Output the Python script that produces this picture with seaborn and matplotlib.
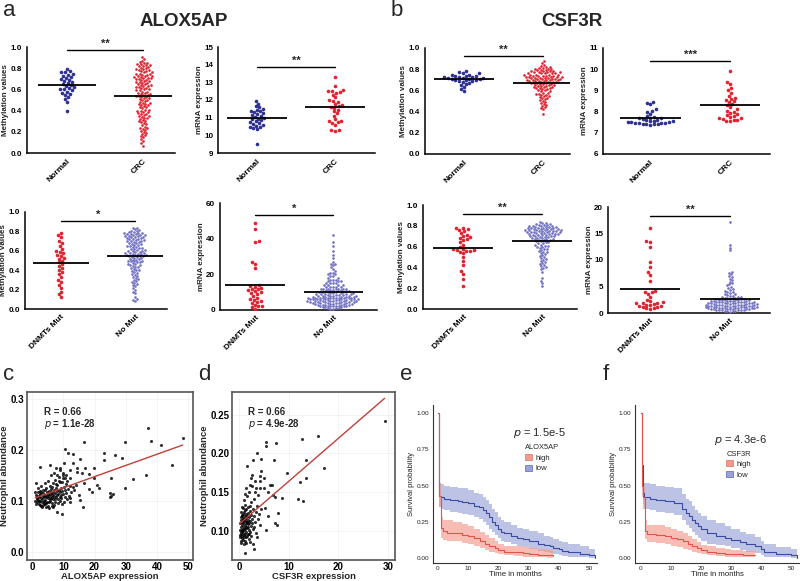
import numpy as np
import pandas as pd
import matplotlib
matplotlib.use("Agg")
import matplotlib.pyplot as plt
import seaborn as sns
from matplotlib.patches import Patch

# ---------------- values ----------------
# panel a (ALOX5AP)
alox_meth_normal = [0.79, 0.77, 0.76, 0.76, 0.75, 0.74, 0.73, 0.72, 0.71, 0.70, 0.69, 0.68, 0.67, 0.66, 0.65,
                    0.64, 0.63, 0.62, 0.61, 0.60, 0.60, 0.59, 0.58, 0.57, 0.56, 0.55, 0.53, 0.51, 0.48, 0.40]
alox_meth_crc = [0.91, 0.89, 0.87, 0.86, 0.85, 0.85, 0.84, 0.84, 0.83, 0.83, 0.82, 0.82, 0.81, 0.80, 0.80, 0.79,
                 0.79, 0.78, 0.78, 0.77, 0.77, 0.76, 0.76, 0.75, 0.75, 0.75, 0.74, 0.74, 0.73, 0.73, 0.73, 0.72,
                 0.72, 0.71, 0.71, 0.71, 0.70, 0.70, 0.69, 0.69, 0.68, 0.68, 0.67, 0.67, 0.66, 0.66, 0.65, 0.65,
                 0.64, 0.64, 0.63, 0.63, 0.62, 0.62, 0.61, 0.61, 0.60, 0.60, 0.59, 0.59, 0.58, 0.58, 0.57, 0.57,
                 0.56, 0.56, 0.55, 0.55, 0.54, 0.54, 0.53, 0.53, 0.52, 0.52, 0.51, 0.50, 0.50, 0.49, 0.48, 0.47,
                 0.47, 0.46, 0.46, 0.45, 0.45, 0.44, 0.43, 0.43, 0.42, 0.41, 0.41, 0.40, 0.40, 0.39, 0.39, 0.38,
                 0.37, 0.37, 0.36, 0.35, 0.35, 0.34, 0.33, 0.33, 0.32, 0.31, 0.30, 0.30, 0.29, 0.28, 0.27, 0.26,
                 0.25, 0.24, 0.24, 0.23, 0.22, 0.21, 0.20, 0.19, 0.18, 0.17, 0.16, 0.15, 0.13, 0.11, 0.09, 0.07]
alox_mrna_normal = [11.95, 11.8, 11.65, 11.6, 11.5, 11.45, 11.4, 11.35, 11.3, 11.25, 11.2, 11.15, 11.1, 11.05, 11.0,
                    10.95, 10.9, 10.85, 10.8, 10.75, 10.7, 10.65, 10.6, 10.55, 10.5, 10.45, 10.4, 10.35, 9.5]
alox_mrna_crc = [13.3, 12.8, 12.55, 12.5, 12.5, 12.45, 12.4, 12.3, 12.15, 12.0, 11.95, 11.9, 11.8, 11.7, 11.65,
                 11.6, 11.55, 11.45, 11.35, 11.25, 11.1, 10.9, 10.8, 10.8, 10.75, 10.7, 10.6, 10.3, 10.28, 10.25]
alox_meth_dnmt = [0.78, 0.76, 0.74, 0.70, 0.68, 0.65, 0.62, 0.60, 0.59, 0.58, 0.56, 0.55, 0.53, 0.52, 0.50,
                  0.48, 0.46, 0.44, 0.42, 0.40, 0.38, 0.36, 0.33, 0.30, 0.28, 0.25, 0.22, 0.18, 0.15, 0.12]
alox_meth_nomut = [0.84, 0.83, 0.82, 0.81, 0.80, 0.80, 0.79, 0.79, 0.78, 0.78, 0.78, 0.77, 0.77, 0.77, 0.76, 0.76,
                   0.76, 0.75, 0.75, 0.75, 0.74, 0.74, 0.74, 0.73, 0.73, 0.72, 0.72, 0.72, 0.71, 0.71, 0.70, 0.70,
                   0.70, 0.69, 0.69, 0.68, 0.68, 0.67, 0.67, 0.66, 0.66, 0.65, 0.65, 0.64, 0.64, 0.63, 0.63, 0.62,
                   0.62, 0.61, 0.61, 0.60, 0.60, 0.60, 0.59, 0.59, 0.58, 0.58, 0.58, 0.57, 0.57, 0.57, 0.56, 0.56,
                   0.56, 0.55, 0.55, 0.55, 0.54, 0.54, 0.53, 0.53, 0.52, 0.52, 0.51, 0.51, 0.50, 0.50, 0.49, 0.49,
                   0.48, 0.48, 0.47, 0.46, 0.46, 0.45, 0.45, 0.44, 0.43, 0.43, 0.42, 0.41, 0.40, 0.40, 0.39, 0.38,
                   0.37, 0.36, 0.35, 0.34, 0.33, 0.32, 0.31, 0.30, 0.29, 0.28, 0.27, 0.26, 0.25, 0.24, 0.22, 0.20,
                   0.18, 0.16, 0.12, 0.10, 0.09, 0.08]
alox_mrna_dnmt = [49, 45.5, 38.5, 38, 27, 26, 23.5, 14, 13.5, 13, 12.5, 12, 11.5, 11, 10.5,
                  10, 9.5, 9, 8, 7, 6, 5.5, 5, 4.5, 4, 3, 2.5, 2, 1.5, 0.8]
alox_mrna_nomut = [42, 38, 36, 33, 31, 29, 27, 26, 26, 25, 24, 23, 22, 21, 21, 20, 20, 19, 19, 18, 18, 17, 17, 17,
                   16, 16, 16, 15, 15, 15, 15, 14, 14, 14, 14, 13, 13, 13, 13, 13, 12, 12, 12, 12, 12, 11.5, 11.5,
                   11, 11, 11, 11, 10.5, 10.5, 10.5, 10, 10, 10, 10, 10, 9.5, 9.5, 9.5, 9.5, 9, 9, 9, 9, 9, 8.5,
                   8.5, 8.5, 8.5, 8, 8, 8, 8, 8, 8, 7.5, 7.5, 7.5, 7.5, 7.5, 7, 7, 7, 7, 7, 7, 6.5, 6.5, 6.5, 6.5,
                   6.5, 6.5, 6, 6, 6, 6, 6, 6, 6, 5.5, 5.5, 5.5, 5.5, 5.5, 5.5, 5, 5, 5, 5, 5, 5, 5, 4.5, 4.5, 4.5,
                   4.5, 4.5, 4.5, 4, 4, 4, 4, 4, 4, 3.5, 3.5, 3.5, 3.5, 3.5, 3, 3, 3, 3, 3, 2.5, 2.5, 2.5, 2.5, 2,
                   2, 2, 2, 1.5, 1.5, 1.5, 1, 1, 1, 0.5, 0.5]

# panel b (CSF3R)
csf_meth_normal = [0.78, 0.77, 0.76, 0.76, 0.75, 0.75, 0.74, 0.74, 0.74, 0.73, 0.73, 0.73, 0.72, 0.72, 0.72,
                   0.71, 0.71, 0.71, 0.70, 0.70, 0.70, 0.69, 0.69, 0.68, 0.67, 0.66, 0.65, 0.63, 0.61, 0.59]
csf_meth_crc = [0.88, 0.86, 0.84, 0.83, 0.82, 0.82, 0.81, 0.81, 0.80, 0.80, 0.80, 0.79, 0.79, 0.79, 0.78, 0.78,
                0.78, 0.78, 0.77, 0.77, 0.77, 0.77, 0.76, 0.76, 0.76, 0.76, 0.76, 0.75, 0.75, 0.75, 0.75, 0.75,
                0.74, 0.74, 0.74, 0.74, 0.74, 0.73, 0.73, 0.73, 0.73, 0.73, 0.72, 0.72, 0.72, 0.72, 0.72, 0.71,
                0.71, 0.71, 0.71, 0.71, 0.70, 0.70, 0.70, 0.70, 0.70, 0.69, 0.69, 0.69, 0.69, 0.68, 0.68, 0.68,
                0.68, 0.67, 0.67, 0.67, 0.67, 0.66, 0.66, 0.66, 0.65, 0.65, 0.65, 0.64, 0.64, 0.64, 0.63, 0.63,
                0.63, 0.62, 0.62, 0.62, 0.61, 0.61, 0.60, 0.60, 0.59, 0.59, 0.58, 0.58, 0.57, 0.57, 0.56, 0.56,
                0.55, 0.55, 0.54, 0.53, 0.53, 0.52, 0.51, 0.50, 0.49, 0.48, 0.47, 0.46, 0.45, 0.44, 0.43, 0.42,
                0.38]
csf_mrna_normal = [8.45, 8.4, 8.35, 8.1, 8.05, 8.0, 7.9, 7.8, 7.75, 7.72, 7.7, 7.68, 7.65, 7.62, 7.6,
                   7.58, 7.55, 7.55, 7.52, 7.5, 7.5, 7.48, 7.46, 7.45, 7.45, 7.43, 7.42, 7.4, 7.4, 7.38]
csf_mrna_crc = [9.9, 9.4, 9.3, 9.1, 9.0, 8.9, 8.75, 8.65, 8.6, 8.55, 8.5, 8.45, 8.35, 8.3, 8.2,
                8.1, 8.05, 8.0, 7.95, 7.9, 7.85, 7.8, 7.75, 7.7, 7.68, 7.65, 7.62, 7.6, 7.58, 7.55]
csf_meth_dnmt = [0.78, 0.78, 0.77, 0.76, 0.75, 0.73, 0.71, 0.70, 0.69, 0.68, 0.67, 0.66, 0.64, 0.62, 0.60,
                 0.58, 0.58, 0.57, 0.57, 0.56, 0.56, 0.55, 0.54, 0.50, 0.46, 0.42, 0.37, 0.34, 0.29, 0.22]
csf_meth_nomut = [0.84, 0.83, 0.83, 0.82, 0.82, 0.81, 0.81, 0.81, 0.80, 0.80, 0.80, 0.80, 0.79, 0.79, 0.79, 0.79,
                  0.78, 0.78, 0.78, 0.78, 0.78, 0.77, 0.77, 0.77, 0.77, 0.77, 0.76, 0.76, 0.76, 0.76, 0.76, 0.75,
                  0.75, 0.75, 0.75, 0.75, 0.74, 0.74, 0.74, 0.74, 0.74, 0.73, 0.73, 0.73, 0.73, 0.72, 0.72, 0.72,
                  0.72, 0.71, 0.71, 0.71, 0.71, 0.70, 0.70, 0.70, 0.70, 0.69, 0.69, 0.69, 0.68, 0.68, 0.68, 0.67,
                  0.67, 0.67, 0.66, 0.66, 0.66, 0.65, 0.65, 0.64, 0.64, 0.63, 0.63, 0.62, 0.62, 0.61, 0.61, 0.60,
                  0.60, 0.59, 0.58, 0.58, 0.57, 0.56, 0.55, 0.55, 0.54, 0.53, 0.52, 0.51, 0.50, 0.49, 0.48, 0.47,
                  0.46, 0.45, 0.44, 0.43, 0.42, 0.41, 0.40, 0.39, 0.38, 0.36, 0.30, 0.27, 0.25, 0.22]
csf_mrna_dnmt = [16, 13.6, 13.4, 12.5, 9.6, 8.6, 7.8, 7.2, 6.1, 4.2, 4.0, 3.9, 3.6, 3.0, 2.5,
                 2.2, 2.0, 1.9, 1.8, 1.8, 1.7, 1.6, 1.5, 1.4, 1.3, 1.2, 1.1, 1.0, 0.9, 0.8]
csf_mrna_nomut = [17.2, 12.8, 12.3, 11.8, 7.8, 7.6, 7.3, 7.0, 6.8, 6.5, 6.2, 5.9, 5.6, 5.4, 5.2, 5.0, 4.8, 4.6,
                  4.4, 4.2, 4.0, 3.9, 3.8, 3.6, 3.5, 3.4, 3.3, 3.2, 3.1, 3.0, 3.0, 2.9, 2.9, 2.8, 2.8, 2.7, 2.7,
                  2.6, 2.6, 2.5, 2.5, 2.5, 2.4, 2.4, 2.4, 2.3, 2.3, 2.3, 2.2, 2.2, 2.2, 2.1, 2.1, 2.1, 2.0, 2.0,
                  2.0, 2.0, 1.9, 1.9, 1.9, 1.9, 1.8, 1.8, 1.8, 1.8, 1.7, 1.7, 1.7, 1.7, 1.6, 1.6, 1.6, 1.6, 1.5,
                  1.5, 1.5, 1.5, 1.4, 1.4, 1.4, 1.4, 1.3, 1.3, 1.3, 1.3, 1.2, 1.2, 1.2, 1.2, 1.1, 1.1, 1.1, 1.1,
                  1.0, 1.0, 1.0, 1.0, 0.9, 0.9, 0.9, 0.9, 0.8, 0.8, 0.8, 0.8, 0.7, 0.7, 0.7, 0.6, 0.6, 0.6, 0.5,
                  0.5, 0.5, 0.4, 0.4, 0.3, 0.3, 0.2]

# panel c: ALOX5AP expression vs neutrophil abundance
c_x = [1.2, 1.5, 1.6, 1.8, 2.0, 2.1, 2.2, 2.4, 2.5, 2.6, 2.8, 3.0, 3.1, 3.2, 3.3, 3.5, 3.6, 3.7, 3.8, 4.0,
       4.1, 4.2, 4.3, 4.5, 4.6, 4.7, 4.8, 5.0, 5.1, 5.2, 5.3, 5.5, 5.6, 5.7, 5.8, 6.0, 6.1, 6.2, 6.3, 6.5,
       6.6, 6.7, 6.8, 7.0, 7.1, 7.2, 7.3, 7.5, 7.6, 7.8, 8.0, 8.1, 8.2, 8.4, 8.5, 8.6, 8.8, 9.0, 9.1, 9.2,
       9.4, 9.5, 9.6, 9.8, 10.0, 10.2, 10.4, 10.5, 10.8, 11.0, 11.2, 11.5, 11.8, 12.0, 12.5, 13.0, 13.5, 14.0,
       1.3, 1.7, 1.9, 2.3, 2.7, 2.9, 3.4, 3.9, 4.4, 4.9, 5.4, 5.9, 6.4, 6.9, 7.4, 7.9, 8.3, 8.9, 9.3, 9.9,
       10.3, 10.7, 11.3, 12.2, 1.4, 2.0, 3.0, 4.0, 5.0, 6.0, 7.0, 8.0, 9.0, 10.0, 11.0, 12.0, 3.5, 4.5, 5.5,
       6.5, 2.5, 1.0, 1.1, 6.3, 7.7, 8.7, 9.7,
       37.2, 48.2, 38.0, 41.2, 29.8, 16.5, 10.6, 11.4, 13.0, 23.1, 26.6, 28.7, 22.9, 15.4, 10.1, 13.0, 44.9,
       2.4, 5.9, 14.4, 17.0, 19.7, 7.7, 9.0, 12.2, 14.4, 16.0, 18.3, 36.5, 19.9, 25.2, 32.4, 16.5, 20.7, 21.3,
       18.1, 19.1, 29.8, 25.0, 25.3, 25.8, 24.8, 14.9, 12.0, 15.4, 16.3, 9.6, 8.0, 6.6]
c_y = [0.136, 0.105, 0.098, 0.110, 0.102, 0.095, 0.108, 0.112, 0.100, 0.093, 0.106, 0.118, 0.099, 0.104, 0.088,
       0.110, 0.115, 0.097, 0.107, 0.121, 0.102, 0.094, 0.112, 0.108, 0.125, 0.099, 0.117, 0.105, 0.113, 0.091,
       0.120, 0.109, 0.130, 0.101, 0.114, 0.118, 0.106, 0.124, 0.097, 0.111, 0.135, 0.116, 0.104, 0.121, 0.110,
       0.142, 0.099, 0.115, 0.126, 0.108, 0.119, 0.131, 0.103, 0.113, 0.148, 0.122, 0.107, 0.117, 0.138, 0.112,
       0.126, 0.095, 0.119, 0.145, 0.114, 0.128, 0.108, 0.121, 0.133, 0.116, 0.140, 0.124, 0.110, 0.130, 0.118,
       0.127, 0.122, 0.132,
       0.112, 0.104, 0.117, 0.101, 0.114, 0.091, 0.122, 0.101, 0.089, 0.110, 0.098, 0.103, 0.107, 0.093, 0.104,
       0.112, 0.097, 0.101, 0.106, 0.150, 0.099, 0.146, 0.104, 0.098, 0.094, 0.125, 0.130, 0.135, 0.140, 0.150,
       0.155, 0.150, 0.160, 0.155, 0.150, 0.145, 0.092, 0.097, 0.087, 0.091, 0.120, 0.100, 0.118, 0.127, 0.133,
       0.140, 0.137,
       0.243, 0.223, 0.218, 0.210, 0.215, 0.215, 0.202, 0.194, 0.192, 0.194, 0.191, 0.185, 0.180, 0.182, 0.175,
       0.175, 0.170, 0.166, 0.171, 0.164, 0.165, 0.164, 0.164, 0.164, 0.161, 0.156, 0.154, 0.152, 0.151, 0.145,
       0.145, 0.143, 0.136, 0.131, 0.125, 0.124, 0.117, 0.125, 0.115, 0.110, 0.113, 0.108, 0.111, 0.106, 0.102,
       0.089, 0.075, 0.078, 0.089]

# panel d: CSF3R expression vs neutrophil abundance
d_x = [0.2, 0.3, 0.3, 0.4, 0.4, 0.5, 0.5, 0.5, 0.6, 0.6, 0.6, 0.7, 0.7, 0.7, 0.8, 0.8, 0.8, 0.9, 0.9, 0.9,
       1.0, 1.0, 1.0, 1.0, 1.1, 1.1, 1.1, 1.2, 1.2, 1.2, 1.2, 1.3, 1.3, 1.3, 1.4, 1.4, 1.4, 1.5, 1.5, 1.5,
       1.6, 1.6, 1.6, 1.7, 1.7, 1.8, 1.8, 1.8, 1.9, 1.9, 2.0, 2.0, 2.0, 2.1, 2.2, 2.2, 2.3, 2.4, 2.5, 2.5,
       2.6, 2.8, 2.8, 3.0, 3.0, 3.2, 3.4, 3.5, 3.6, 3.8, 4.0, 4.2, 4.5, 0.3, 0.4, 0.5, 0.6, 0.7, 0.8, 0.9,
       1.1, 1.3, 1.5, 1.7, 1.9, 2.1, 2.3, 2.7, 3.1, 0.5, 1.0, 1.5, 2.0, 2.5, 0.6, 1.2, 1.4, 2.2, 2.6, 3.3, 3.9,
       29.3, 16.0, 12.6, 5.4, 5.5, 7.4, 3.7, 13.5, 4.4, 2.9, 7.1, 1.7, 17.2, 4.4, 9.7, 2.6, 2.4, 13.4, 4.2,
       5.0, 3.2, 4.2, 12.3, 6.6, 6.2, 3.5, 5.0, 4.2, 5.8, 6.9, 7.2, 8.7, 11.8, 12.8, 5.2, 7.9, 5.9, 7.2, 7.6,
       5.4, 3.6, 2.9, 2.2, 1.2, 3.0]
d_y = [0.095, 0.102, 0.110, 0.088, 0.118, 0.097, 0.105, 0.125, 0.091, 0.112, 0.100, 0.108, 0.120, 0.094,
       0.103, 0.115, 0.130, 0.098, 0.110, 0.122, 0.092, 0.106, 0.117, 0.140, 0.101, 0.113, 0.125, 0.096, 0.108,
       0.119, 0.134, 0.103, 0.115, 0.088, 0.110, 0.122, 0.099, 0.106, 0.128, 0.117, 0.094, 0.112, 0.145, 0.104,
       0.120, 0.109, 0.131, 0.097, 0.115, 0.124, 0.102, 0.118, 0.150, 0.111, 0.126, 0.099, 0.113, 0.137, 0.107,
       0.121, 0.116, 0.128, 0.103, 0.119, 0.142, 0.112, 0.125, 0.098, 0.133, 0.116, 0.122, 0.108, 0.128, 0.092,
       0.099, 0.114, 0.121, 0.101, 0.089, 0.116, 0.095, 0.127, 0.093, 0.112, 0.105, 0.096, 0.133, 0.110, 0.105,
       0.085, 0.083, 0.085, 0.090, 0.094, 0.131, 0.148, 0.155, 0.160, 0.158, 0.150, 0.146,
       0.242, 0.222, 0.218, 0.215, 0.209, 0.214, 0.201, 0.191, 0.193, 0.192, 0.191, 0.184, 0.181, 0.178, 0.175,
       0.172, 0.169, 0.169, 0.171, 0.169, 0.165, 0.164, 0.163, 0.159, 0.160, 0.155, 0.155, 0.155, 0.150, 0.147,
       0.144, 0.143, 0.142, 0.139, 0.130, 0.123, 0.119, 0.110, 0.108, 0.101, 0.092, 0.084, 0.086, 0.072, 0.077]

# panel e: survival curves, ALOX5AP high / low
e_low_t = [0, 0.2, 0.5, 1.0, 2.0, 4.0, 6.5, 8.0, 10.0, 12.0, 13.5, 15.0, 16.0, 17.0, 18.0, 19.0, 20.0, 21.0,
           22.0, 24.0, 26.0, 28.0, 30.0, 33.0, 35.0, 37.0, 38.0, 40.0, 41.0, 43.0, 47.0, 50.0, 52.0]
e_low_s = [1.0, 0.62, 0.43, 0.42, 0.41, 0.40, 0.39, 0.385, 0.38, 0.36, 0.35, 0.33, 0.31, 0.28, 0.25, 0.23, 0.20,
           0.18, 0.17, 0.15, 0.14, 0.13, 0.12, 0.10, 0.09, 0.08, 0.07, 0.06, 0.05, 0.04, 0.03, 0.02, 0.0]
e_low_hi = [1.0, 0.73, 0.52, 0.51, 0.50, 0.49, 0.48, 0.48, 0.47, 0.45, 0.44, 0.42, 0.40, 0.37, 0.34, 0.32, 0.28,
            0.26, 0.25, 0.23, 0.21, 0.20, 0.19, 0.17, 0.155, 0.145, 0.13, 0.12, 0.11, 0.095, 0.08, 0.065, 0.06]
e_low_lo = [1.0, 0.52, 0.35, 0.34, 0.33, 0.32, 0.31, 0.305, 0.30, 0.28, 0.27, 0.25, 0.23, 0.20, 0.18, 0.16, 0.14,
            0.12, 0.11, 0.095, 0.085, 0.075, 0.065, 0.05, 0.04, 0.035, 0.03, 0.02, 0.015, 0.01, 0.005, 0.0, 0.0]
e_high_t = [0, 0.2, 0.5, 1.0, 1.5, 3.0, 5.0, 8.0, 10.0, 12.0, 14.0, 15.5, 17.0, 19.0, 20.0, 22.0, 25.0, 28.0,
            30.0, 33.0, 36.0, 38.0]
e_high_s = [1.0, 0.52, 0.43, 0.21, 0.19, 0.175, 0.17, 0.16, 0.15, 0.135, 0.12, 0.10, 0.085, 0.07, 0.055, 0.045,
            0.04, 0.034, 0.03, 0.023, 0.018, 0.016]
e_high_hi = [1.0, 0.60, 0.52, 0.28, 0.265, 0.26, 0.25, 0.235, 0.22, 0.20, 0.18, 0.16, 0.14, 0.12, 0.10, 0.085,
             0.08, 0.075, 0.07, 0.06, 0.055, 0.05]
e_high_lo = [1.0, 0.44, 0.35, 0.14, 0.125, 0.12, 0.115, 0.105, 0.095, 0.085, 0.07, 0.055, 0.045, 0.035, 0.025,
             0.018, 0.014, 0.01, 0.008, 0.005, 0.003, 0.003]

# panel f: survival curves, CSF3R high / low
f_low_t = [0, 0.2, 0.6, 1.0, 3.0, 5.0, 8.0, 11.0, 12.5, 13.5, 15.0, 16.0, 17.0, 18.0, 19.0, 20.0, 22.0, 25.0,
           28.0, 30.0, 33.0, 35.0, 38.0, 40.0, 41.0, 45.0, 50.0, 52.0]
f_low_s = [1.0, 0.64, 0.45, 0.42, 0.41, 0.40, 0.39, 0.38, 0.38, 0.34, 0.31, 0.29, 0.26, 0.24, 0.22, 0.20, 0.17,
           0.155, 0.14, 0.125, 0.11, 0.095, 0.08, 0.06, 0.04, 0.025, 0.02, 0.0]
f_low_hi = [1.0, 0.75, 0.54, 0.52, 0.51, 0.50, 0.49, 0.48, 0.48, 0.44, 0.41, 0.39, 0.36, 0.33, 0.31, 0.29, 0.26,
            0.24, 0.22, 0.20, 0.18, 0.165, 0.145, 0.12, 0.095, 0.075, 0.065, 0.06]
f_low_lo = [1.0, 0.54, 0.37, 0.34, 0.33, 0.32, 0.31, 0.30, 0.30, 0.26, 0.23, 0.21, 0.18, 0.16, 0.14, 0.12, 0.10,
            0.09, 0.08, 0.07, 0.055, 0.045, 0.035, 0.02, 0.01, 0.005, 0.0, 0.0]
f_high_t = [0, 0.3, 0.8, 1.2, 2.0, 5.0, 8.0, 10.0, 12.0, 14.0, 15.5, 17.0, 18.5, 20.0, 22.0, 25.0, 28.0, 30.0,
            34.0, 38.0]
f_high_s = [1.0, 0.50, 0.42, 0.19, 0.165, 0.16, 0.15, 0.14, 0.13, 0.115, 0.10, 0.085, 0.07, 0.055, 0.045, 0.035,
            0.03, 0.025, 0.022, 0.02]
f_high_hi = [1.0, 0.58, 0.50, 0.26, 0.23, 0.225, 0.215, 0.20, 0.19, 0.17, 0.15, 0.13, 0.11, 0.09, 0.08, 0.07,
             0.06, 0.055, 0.05, 0.05]
f_high_lo = [1.0, 0.42, 0.34, 0.13, 0.11, 0.105, 0.095, 0.085, 0.075, 0.065, 0.055, 0.045, 0.035, 0.025, 0.02,
             0.012, 0.01, 0.008, 0.006, 0.005]

NAVY = "#2e3192"
RED = "#e0242f"
LAV = "#7373c4"
W, H = 800, 581

sns.set_style("white")
plt.rcParams['font.family'] = ['Liberation Sans', 'DejaVu Sans']

fig = plt.figure(figsize=(8, 5.81), dpi=100)


def box(l, t, r, b):
    # pixel box -> figure fraction
    return [l / W, 1 - b / H, (r - l) / W, (b - t) / H]


def dot_panel(pos, g1, g2, labels, colors, ylim, yticks, ylabel, xlim, bar_y, stars):
    ax = fig.add_axes(box(*pos))
    for lab, g, col in zip(labels, [g1, g2], colors):
        # the big groups were drawn with smaller dots
        sz = 2.6 if len(g) < 60 else 1.9
        sns.swarmplot(x=[lab] * len(g), y=g, order=labels, color=col, size=sz, ax=ax, warn_thresh=1)
    for i, g in enumerate([g1, g2]):
        ax.hlines(np.mean(g), i - 0.38, i + 0.38, color='black', lw=1.3, zorder=5)
    ax.plot([0, 1], [bar_y, bar_y], color='black', lw=1.0, clip_on=False)
    ax.text(0.5, bar_y + (ylim[1] - ylim[0]) * 0.01, stars, ha='center', va='bottom',
            fontsize=8, fontweight='bold')
    ax.set_xlim(*xlim)
    ax.set_ylim(*ylim)
    ax.set_yticks(yticks)
    ax.set_xlabel('')
    ax.set_ylabel(ylabel, fontsize=5.8, fontweight='bold', labelpad=1)
    for s in ['top', 'right']:
        ax.spines[s].set_visible(False)
    for s in ['left', 'bottom']:
        ax.spines[s].set_linewidth(1.1)
        ax.spines[s].set_color('black')
    ax.tick_params(axis='both', direction='out', length=2.2, width=1, pad=1.2, labelsize=5.8, colors='black')
    for lab in ax.get_yticklabels():
        lab.set_fontweight('bold')
    ax.set_xticks([0, 1])
    ax.set_xticklabels(labels, rotation=45, ha='right', rotation_mode='anchor', fontweight='bold', fontsize=6)
    return ax


# ---- panel a ----
dot_panel((27, 47, 175, 153), alox_meth_normal, alox_meth_crc, ['Normal', 'CRC'], [NAVY, RED],
          (0, 1), np.arange(0, 1.01, 0.2), 'Methylation values', (-0.526, 1.42), 0.97, '**')
dot_panel((218, 47, 375, 153), alox_mrna_normal, alox_mrna_crc, ['Normal', 'CRC'], [NAVY, RED],
          (9, 15), np.arange(9, 16, 1), 'mRNA expression', (-0.5, 1.51), 13.87, '**')
dot_panel((25, 212, 167, 309), alox_meth_dnmt, alox_meth_nomut, ['DNMTs Mut', 'No Mut'], [RED, LAV],
          (0, 1), np.arange(0, 1.01, 0.2), 'Methylation values', (-0.486, 1.43), 0.907, '*')
dot_panel((220, 203, 377, 310), alox_mrna_dnmt, alox_mrna_nomut, ['DNMTs Mut', 'No Mut'], [RED, LAV],
          (0, 60), [0, 20, 40, 60], 'mRNA expression', (-0.45, 1.56), 53.3, '*')

# ---- panel b ----
dot_panel((425, 48, 570, 154), csf_meth_normal, csf_meth_crc, ['Normal', 'CRC'], [NAVY, RED],
          (0, 1), np.arange(0, 1.01, 0.2), 'Methylation values', (-0.49, 1.34), 0.925, '**')
dot_panel((603, 48, 770, 154), csf_mrna_normal, csf_mrna_crc, ['Normal', 'CRC'], [NAVY, RED],
          (6, 11), np.arange(6, 12, 1), 'mRNA expression', (-0.59, 1.5), 10.39, '***')
dot_panel((423, 205, 577, 309), csf_meth_dnmt, csf_meth_nomut, ['DNMTs Mut', 'No Mut'], [RED, LAV],
          (0, 1), np.arange(0, 1.01, 0.2), 'Methylation values', (-0.51, 1.44), 0.913, '**')
dot_panel((608, 207, 770, 313), csf_mrna_dnmt, csf_mrna_nomut, ['DNMTs Mut', 'No Mut'], [RED, LAV],
          (0, 20), [0, 5, 10, 15, 20], 'mRNA expression', (-0.525, 1.5), 18.3, '**')


# ---- panels c, d ----
def corr_panel(pos, x, y, xlim, ylim, xticks, yticks, ytfmt, xlabel, rtxt, ptxt):
    ax = fig.add_axes(box(*pos))
    sns.regplot(x=np.array(x), y=np.array(y), ci=None, ax=ax,
                scatter_kws={'s': 5, 'color': 'black', 'linewidths': 0},
                line_kws={'color': '#c0403a', 'lw': 1.0})
    ax.set_xlim(*xlim)
    ax.set_ylim(*ylim)
    ax.set_xticks(xticks)
    ax.set_yticks(yticks)
    ax.set_yticklabels([ytfmt.format(v) for v in yticks])
    ax.grid(True, color='#eeeeee', lw=0.5)
    ax.set_axisbelow(True)
    for s in ax.spines.values():
        s.set_visible(True)
        s.set_color('#555555')
        s.set_linewidth(1.2)
    ax.tick_params(axis='both', direction='out', length=1.2, width=0.8, pad=0.6, labelsize=7, colors='black')
    for lab in ax.get_xticklabels() + ax.get_yticklabels():
        lab.set_fontweight('bold')
    ax.set_xlabel(xlabel, fontsize=6.8, fontweight='bold', labelpad=-0.5)
    ax.set_ylabel('Neutrophil abundance', fontsize=6.8, fontweight='bold', labelpad=1)
    ax.text(0.1, 0.88, rtxt, transform=ax.transAxes, fontsize=7, fontweight='bold', va='center')
    ax.text(0.1, 0.81, ptxt, transform=ax.transAxes, fontsize=7, fontweight='bold', va='center')
    return ax


corr_panel((27, 392, 193, 560), c_x, c_y, (-1.6, 51.5), (-0.0155, 0.3135), [0, 10, 20, 30, 40, 50],
           [0.0, 0.1, 0.2, 0.3], '{:.1f}', 'ALOX5AP expression', 'R = 0.66', r'$\it{p}$ = 1.1e-28')
corr_panel((232, 392, 395, 560), d_x, d_y, (-1.4, 31.4), (0.063, 0.279), [0, 10, 20, 30],
           [0.10, 0.15, 0.20, 0.25], '{:.2f}', 'CSF3R expression', 'R = 0.66', r'$\it{p}$ = 4.9e-28')

# ---- panels e, f ----
RED_LINE, RED_FILL = '#e0554a', '#f39a8e'
BLUE_LINE, BLUE_FILL = '#3b4ba3', '#9aa3d8'


def km_panel(pos, xlim, curves, gene, ptxt, p_xy, leg_xy):
    ax = fig.add_axes(box(*pos))
    for t, s, lo, hi, lc, fc in curves:
        ax.fill_between(t, lo, hi, step='post', color=fc, alpha=0.65, lw=0)
        sns.lineplot(x=t, y=s, drawstyle='steps-post', color=lc, lw=0.8, estimator=None, ax=ax)
    ax.set_xlim(*xlim)
    ax.set_ylim(-0.034, 1.055)
    ax.set_xticks([0, 10, 20, 30, 40, 50])
    ax.set_yticks([0, 0.25, 0.5, 0.75, 1.0])
    ax.set_yticklabels(['0.00', '0.25', '0.50', '0.75', '1.00'])
    for s in ['top', 'right']:
        ax.spines[s].set_visible(False)
    for s in ['left', 'bottom']:
        ax.spines[s].set_linewidth(0.8)
        ax.spines[s].set_color('#333333')
    ax.tick_params(axis='both', direction='out', length=1.5, width=0.6, pad=1, labelsize=4.6, colors='#222222')
    ax.set_xlabel('Time in months', fontsize=5.6, labelpad=0, color='#222222')
    ax.set_ylabel('Survival probability', fontsize=5.4, labelpad=1.5, color='#222222')
    ax.text(p_xy[0], p_xy[1], ptxt, transform=ax.transAxes, fontsize=8, ha='center', va='center')
    handles = [Patch(facecolor=RED_FILL, edgecolor=RED_LINE, lw=0.4, label='high'),
               Patch(facecolor=BLUE_FILL, edgecolor=BLUE_LINE, lw=0.4, label='low')]
    ax.legend(handles=handles, title=gene, loc='upper left', bbox_to_anchor=leg_xy, frameon=False,
              fontsize=5.6, title_fontsize=5.4, handlelength=0.8, handleheight=0.8,
              labelspacing=0.35, borderpad=0, handletextpad=0.5, alignment='left')
    return ax


km_panel((433, 405, 597, 563), (-1.65, 52.6),
         [(e_low_t, e_low_s, e_low_lo, e_low_hi, BLUE_LINE, BLUE_FILL),
          (e_high_t, e_high_s, e_high_lo, e_high_hi, RED_LINE, RED_FILL)],
         'ALOX5AP', r'$\it{p}$ = 1.5e-5', (0.65, 0.82), (0.54, 0.775))
km_panel((635, 405, 800, 563), (-2.0, 52.9),
         [(f_low_t, f_low_s, f_low_lo, f_low_hi, BLUE_LINE, BLUE_FILL),
          (f_high_t, f_high_s, f_high_lo, f_high_hi, RED_LINE, RED_FILL)],
         'CSF3R', r'$\it{p}$ = 4.3e-6', (0.64, 0.78), (0.53, 0.735))

# ---- titles and panel letters ----
fig.text(184 / W, 1 - 22 / H, 'ALOX5AP', fontsize=13.5, fontweight='bold', ha='center', va='center')
fig.text(572 / W, 1 - 22 / H, 'CSF3R', fontsize=13.5, fontweight='bold', ha='center', va='center')
for letter, x, y in [('a', 9, 11), ('b', 397, 11), ('c', 9, 375), ('d', 204, 375), ('e', 406, 375), ('f', 606, 375)]:
    fig.text(x / W, 1 - y / H, letter, fontsize=16, ha='center', va='center')

fig.savefig('out.png', dpi=100)
